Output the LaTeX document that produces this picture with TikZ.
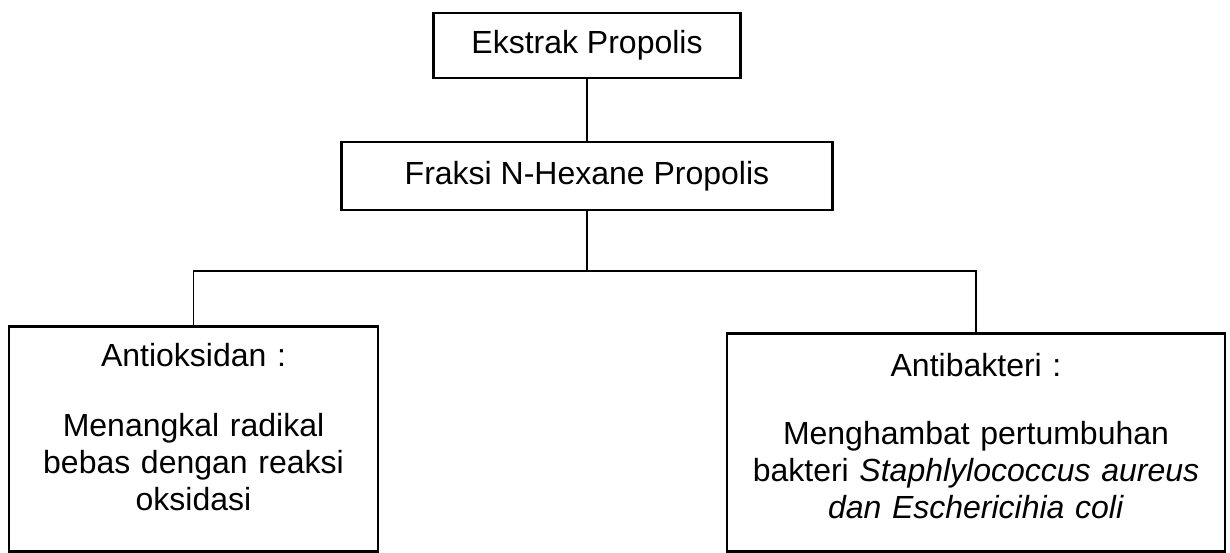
\documentclass[tikz,border=0pt]{standalone}
\usepackage{fontspec}
\setmainfont{Liberation Sans}
\begin{document}
\begin{tikzpicture}[x=.5pt, y=-.5pt, font=\fontsize{16}{18.4}\selectfont,
    box/.style={draw, line width=1.4pt, align=center},
    link/.style={line width=.7pt}]
\useasboundingbox (0,0) rectangle (1230,552);
\node[box, minimum width=153.5pt, minimum height=32.5pt] (ekstrak) at (587,45.5) {Ekstrak Propolis};
\node[box, minimum width=245.5pt, minimum height=34pt] (fraksi) at (587,176) {Fraksi N-Hexane Propolis};
\node[box, anchor=north, inner xsep=0pt, inner ysep=0pt, text width=184.5pt,
    text height=20pt, text depth=92.5pt] (antiox) at (193.5,325)
    {Antioksidan :\\[16.6pt] Menangkal radikal\\ bebas dengan reaksi\\ oksidasi};
\node[box, anchor=north, inner xsep=0pt, inner ysep=0pt, text width=249pt,
    text height=21.5pt, text depth=87.5pt] (antibak) at (976,332)
    {Antibakteri :\\[15.6pt] Menghambat pertumbuhan\\ bakteri \textit{Staphlylococcus aureus}\\ \textit{dan Eschericihia coli}};
\coordinate (split) at (587,271);
\draw[link] (ekstrak) -- (fraksi);
\draw[link] (fraksi) -- (split);
\draw[link] (antiox.north) |- (split) -| (antibak.north);
\end{tikzpicture}
\end{document}
